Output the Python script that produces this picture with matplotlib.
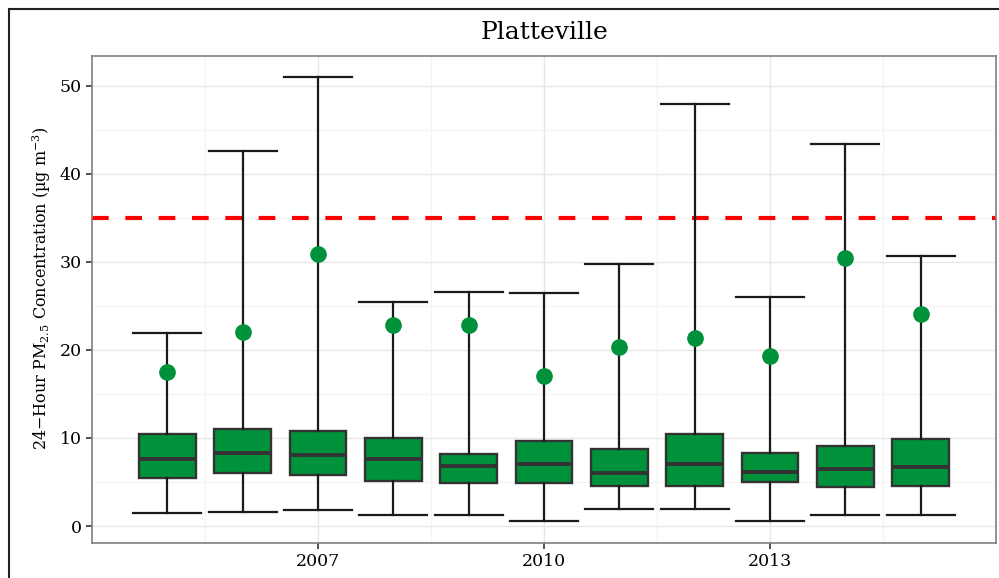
import matplotlib
matplotlib.use("Agg")
import matplotlib.pyplot as plt
from matplotlib.patches import Rectangle

# Werte
years = [2005, 2006, 2007, 2008, 2009, 2010, 2011, 2012, 2013, 2014, 2015]
min_vals = [1.44, 1.55, 1.78, 1.2, 1.2, 0.57, 1.89, 1.97, 0.57, 1.2, 1.28]
q1_vals = [5.5, 5.98, 5.8, 5.15, 4.85, 4.85, 4.55, 4.55, 5.04, 4.4, 4.5]
median_vals = [7.65, 8.26, 8.07, 7.65, 6.8, 7.1, 6.06, 7.08, 6.17, 6.52, 6.7]
q3_vals = [10.4, 11.0, 10.8, 10.0, 8.18, 9.66, 8.8, 10.45, 8.26, 9.13, 9.85]
max_vals = [21.9, 42.6, 51.0, 25.5, 26.6, 26.5, 29.8, 48.0, 26.0, 43.4, 30.7]
p98_vals = [17.5, 22.0, 30.9, 22.8, 22.8, 17.0, 20.3, 21.4, 19.36, 30.45, 24.05]
standard = 35
year_ticks = [2007, 2010, 2013]

green = "#00923a"
edge = "#333333"

plt.rcParams["font.family"] = "DejaVu Serif"
plt.rcParams["mathtext.fontset"] = "dejavuserif"

fig = plt.figure(figsize=(9.99, 5.78), dpi=100)
ax = fig.add_axes([92 / 999, 35 / 578, 904 / 999, 487 / 578])

stats = []
for i in range(len(years)):
    stats.append({
        "whislo": min_vals[i], "q1": q1_vals[i], "med": median_vals[i],
        "q3": q3_vals[i], "whishi": max_vals[i], "fliers": [],
    })

ax.bxp(stats, positions=years, widths=0.75, capwidths=0.9,
       patch_artist=True, showfliers=False,
       boxprops=dict(facecolor=green, edgecolor=edge, linewidth=1.7),
       medianprops=dict(color=edge, linewidth=2.8, solid_capstyle="butt"),
       whiskerprops=dict(color="#1a1a1a", linewidth=1.6),
       capprops=dict(color="#1a1a1a", linewidth=1.6),
       zorder=3)

ax.plot(years, p98_vals, "o", color=green, markersize=11, zorder=4)

ax.axhline(standard, color="#ff0000", linewidth=3, dashes=(4, 4), zorder=2)

ax.set_xlim(2004.0, 2016.0)
ax.set_ylim(-1.93, 53.4)
ax.set_xticks(year_ticks)
ax.set_xticklabels([str(y) for y in year_ticks])
ax.set_xticks([2005.5, 2008.5, 2011.5, 2014.5], minor=True)
ax.set_yticks([0, 10, 20, 30, 40, 50])
ax.set_yticks([5, 15, 25, 35, 45], minor=True)

ax.grid(True, which="major", color="#e6e6e6", linewidth=1.0, zorder=0)
ax.grid(True, which="minor", color="#f4f4f4", linewidth=1.0, zorder=0)
ax.set_axisbelow(True)

ax.tick_params(which="major", length=4, width=1.2, color="#333333",
               labelsize=12.5, labelcolor="black")
ax.tick_params(which="minor", length=0)
for s in ax.spines.values():
    s.set_color("#7f7f7f")
    s.set_linewidth(1.2)

ax.set_ylabel("24$-$Hour PM$_{2.5}$ Concentration (µg m$^{-3}$)",
              fontsize=11.5)
ax.yaxis.set_label_coords(-0.043, 0.524)
ax.set_title("Platteville", fontsize=18, pad=12)

# aeusserer Rahmen
fig.patches.append(Rectangle((9 / 999, -0.2), 1.5, 569 / 578 + 0.2,
                             transform=fig.transFigure, fill=False,
                             edgecolor="#222222", linewidth=1.5))

fig.savefig("out.png", dpi=100)
